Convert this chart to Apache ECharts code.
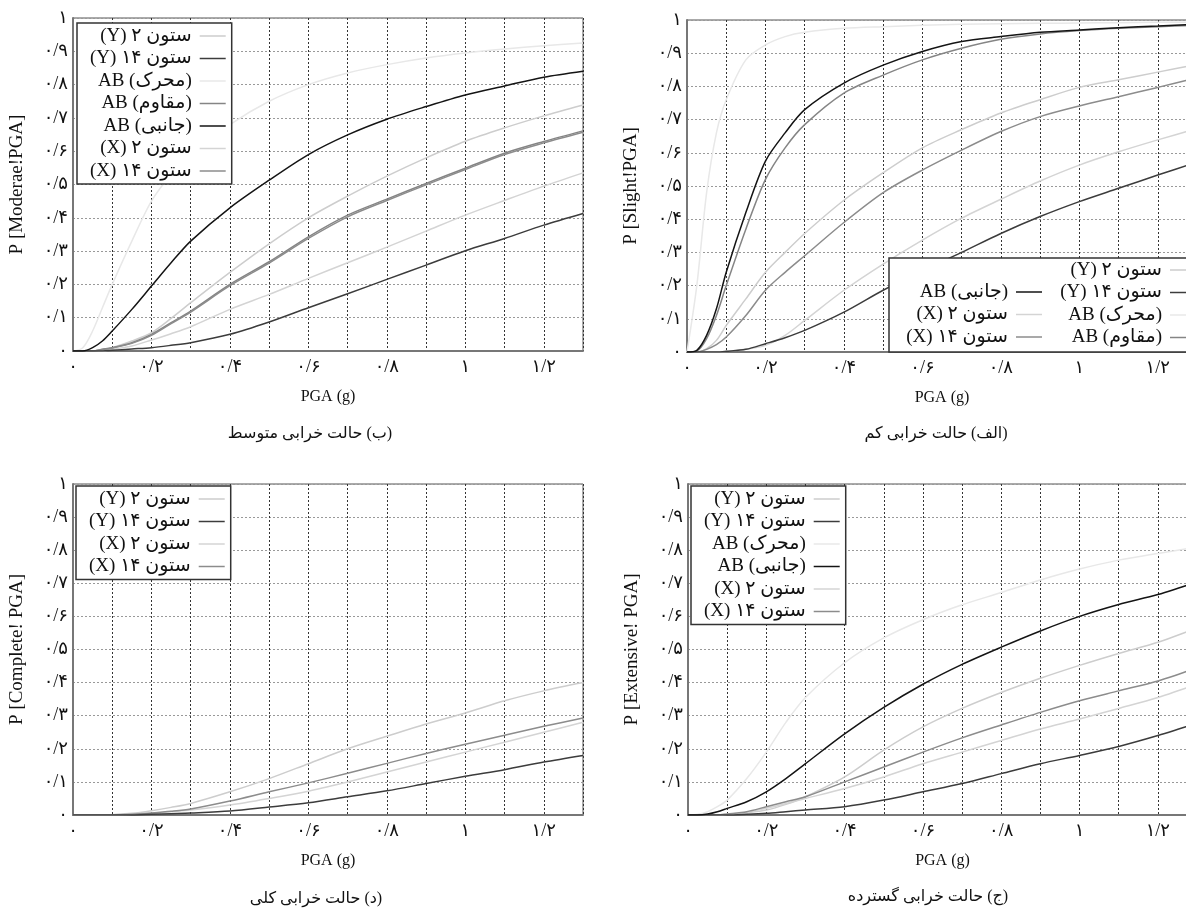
<!DOCTYPE html>
<html>
<head>
<meta charset="utf-8">
<script src="https://cdn.jsdelivr.net/npm/echarts@6/dist/echarts.min.js"></script>
<style>
  html, body { margin: 0; padding: 0; background: #fff; overflow: hidden; }
  #main { width: 1200px; height: 912px; direction: rtl; }
</style>
</head>
<body>
<div id="main"></div>
<script>
// PGA (g) sample points shared by every curve
const pga = [0, 0.025, 0.05, 0.075, 0.1, 0.15, 0.2, 0.25, 0.3, 0.4, 0.5, 0.6, 0.7, 0.8, 0.9, 1.0, 1.1, 1.2, 1.3];

const xTickLabels = ['۰', '۰/۲', '۰/۴', '۰/۶', '۰/۸', '۱', '۱/۲'];
const yTickLabels = ['۰', '۰/۱', '۰/۲', '۰/۳', '۰/۴', '۰/۵', '۰/۶', '۰/۷', '۰/۸', '۰/۹', '۱'];

const N_C2Y = 'ستون ۲ (Y)';
const N_C14Y = 'ستون ۱۴ (Y)';
const N_DRV = '(محرک) AB';
const N_RES = '(مقاوم) AB';
const N_LAT = '(جانبی) AB';
const N_C2X = 'ستون ۲ (X)';
const N_C14X = 'ستون ۱۴ (X)';

// (الف) slight
const sliC2Y  = [0, 0, 0.01, 0.035, 0.08, 0.16, 0.24, 0.3, 0.357, 0.457, 0.54, 0.615, 0.67, 0.72, 0.76, 0.797, 0.82, 0.843, 0.866];
const sliC14Y = [0, 0, 0, 0, 0.002, 0.008, 0.025, 0.043, 0.065, 0.12, 0.186, 0.245, 0.3, 0.357, 0.408, 0.453, 0.493, 0.533, 0.572];
const sliDrv  = [0, 0.2, 0.48, 0.66, 0.76, 0.88, 0.925, 0.95, 0.963, 0.975, 0.98, 0.984, 0.987, 0.989, 0.99, 0.991, 0.992, 0.993, 0.993];
const sliRes  = [0, 0.003, 0.04, 0.11, 0.2, 0.37, 0.52, 0.615, 0.685, 0.78, 0.834, 0.88, 0.915, 0.942, 0.958, 0.968, 0.975, 0.98, 0.984];
const sliLat  = [0, 0.005, 0.05, 0.13, 0.24, 0.42, 0.575, 0.66, 0.73, 0.81, 0.864, 0.905, 0.935, 0.95, 0.963, 0.97, 0.977, 0.982, 0.987];
const sliC2X  = [0, 0, 0, 0, 0.002, 0.008, 0.02, 0.05, 0.095, 0.186, 0.265, 0.337, 0.403, 0.46, 0.515, 0.563, 0.603, 0.639, 0.673];
const sliC14X = [0, 0, 0.008, 0.022, 0.045, 0.11, 0.186, 0.24, 0.29, 0.39, 0.48, 0.548, 0.608, 0.664, 0.709, 0.741, 0.769, 0.797, 0.826];

// (ب) moderate
const modC2Y  = [0, 0, 0, 0.005, 0.01, 0.03, 0.055, 0.098, 0.145, 0.236, 0.322, 0.4, 0.465, 0.525, 0.58, 0.63, 0.67, 0.706, 0.739];
const modC14Y = [0, 0, 0, 0, 0.002, 0.006, 0.01, 0.017, 0.025, 0.05, 0.087, 0.13, 0.172, 0.215, 0.258, 0.301, 0.338, 0.378, 0.413];
const modDrv  = [0, 0.01, 0.06, 0.13, 0.2, 0.33, 0.45, 0.53, 0.59, 0.68, 0.75, 0.8, 0.835, 0.86, 0.88, 0.895, 0.907, 0.917, 0.925];
const modRes  = [0, 0, 0, 0.005, 0.01, 0.025, 0.05, 0.085, 0.12, 0.2, 0.268, 0.343, 0.408, 0.456, 0.503, 0.549, 0.594, 0.629, 0.661];
const modLat  = [0, 0, 0.01, 0.03, 0.06, 0.125, 0.195, 0.265, 0.33, 0.43, 0.513, 0.59, 0.649, 0.696, 0.734, 0.769, 0.796, 0.822, 0.84];
const modC2X  = [0, 0, 0, 0, 0.005, 0.015, 0.033, 0.052, 0.073, 0.125, 0.17, 0.218, 0.265, 0.312, 0.36, 0.408, 0.452, 0.495, 0.535];
const modC14X = [0, 0, 0, 0.004, 0.009, 0.023, 0.047, 0.082, 0.117, 0.196, 0.264, 0.338, 0.403, 0.452, 0.499, 0.545, 0.59, 0.625, 0.657];

// (ج) extensive
const extC2Y  = [0, 0, 0, 0, 0.002, 0.007, 0.015, 0.032, 0.055, 0.115, 0.196, 0.266, 0.322, 0.37, 0.413, 0.452, 0.488, 0.522, 0.565];
const extC14Y = [0, 0, 0, 0, 0, 0.002, 0.005, 0.01, 0.015, 0.025, 0.045, 0.07, 0.095, 0.125, 0.155, 0.18, 0.207, 0.24, 0.277];
const extDrv  = [0, 0.002, 0.01, 0.025, 0.045, 0.11, 0.19, 0.28, 0.355, 0.46, 0.535, 0.59, 0.635, 0.672, 0.71, 0.743, 0.77, 0.79, 0.81];
const extLat  = [0, 0, 0.003, 0.01, 0.02, 0.04, 0.07, 0.11, 0.155, 0.245, 0.325, 0.395, 0.455, 0.507, 0.556, 0.6, 0.636, 0.666, 0.704];
const extC2X  = [0, 0, 0, 0, 0.002, 0.008, 0.02, 0.035, 0.05, 0.08, 0.115, 0.155, 0.19, 0.225, 0.26, 0.29, 0.322, 0.355, 0.395];
const extC14X = [0, 0, 0, 0, 0.003, 0.01, 0.025, 0.04, 0.055, 0.1, 0.145, 0.19, 0.233, 0.272, 0.31, 0.345, 0.375, 0.405, 0.445];

// (د) complete
const comC2Y  = [0, 0, 0, 0, 0.001, 0.005, 0.013, 0.023, 0.035, 0.07, 0.11, 0.155, 0.2, 0.238, 0.275, 0.308, 0.345, 0.375, 0.4];
const comC14Y = [0, 0, 0, 0, 0, 0, 0.002, 0.004, 0.006, 0.012, 0.024, 0.037, 0.055, 0.073, 0.095, 0.117, 0.137, 0.16, 0.18];
const comC2X  = [0, 0, 0, 0, 0, 0.002, 0.005, 0.01, 0.015, 0.03, 0.05, 0.072, 0.1, 0.13, 0.16, 0.19, 0.22, 0.25, 0.28];
const comC14X = [0, 0, 0, 0, 0, 0.002, 0.006, 0.011, 0.018, 0.042, 0.07, 0.097, 0.126, 0.156, 0.186, 0.214, 0.241, 0.268, 0.293];

const FONT = "'Liberation Serif', 'DejaVu Sans', serif";

const colorOf = {};
colorOf[N_C2Y] = '#cdcdcd';
colorOf[N_C14Y] = '#3c3c3c';
colorOf[N_DRV] = '#e8e8e8';
colorOf[N_RES] = '#858585';
colorOf[N_LAT] = '#141414';
colorOf[N_C2X] = '#d4d4d4';
colorOf[N_C14X] = '#8c8c8c';

const panels = [
  { // (ب)
    grid: { left: 73, top: 18, width: 510, height: 333 },
    yName: 'P [Moderae!PGA]',
    curves: [[N_DRV, modDrv], [N_C2Y, modC2Y], [N_C2X, modC2X], [N_RES, modRes], [N_C14X, modC14X], [N_C14Y, modC14Y], [N_LAT, modLat]]
  },
  { // (الف)
    grid: { left: 687, top: 20, width: 511, height: 332 },
    yName: 'P [Slight!PGA]',
    curves: [[N_DRV, sliDrv], [N_C2Y, sliC2Y], [N_C2X, sliC2X], [N_RES, sliRes], [N_C14X, sliC14X], [N_C14Y, sliC14Y], [N_LAT, sliLat]]
  },
  { // (د)
    grid: { left: 73, top: 484, width: 510, height: 331 },
    yName: 'P [Complete! PGA]',
    curves: [[N_C2Y, comC2Y], [N_C2X, comC2X], [N_C14X, comC14X], [N_C14Y, comC14Y]]
  },
  { // (ج)
    grid: { left: 688, top: 484, width: 510, height: 331 },
    yName: 'P [Extensive! PGA]',
    curves: [[N_DRV, extDrv], [N_C2Y, extC2Y], [N_C2X, extC2X], [N_C14X, extC14X], [N_C14Y, extC14Y], [N_LAT, extLat]]
  }
];

const chart = echarts.init(document.getElementById('main'), null, { renderer: 'canvas' });

const grids = [], xAxes = [], yAxes = [], series = [];
panels.forEach((p, i) => {
  grids.push(Object.assign({ show: true, borderColor: '#555', borderWidth: 1, containLabel: false }, p.grid));
  xAxes.push({
    gridIndex: i, type: 'value', min: 0, max: 1.3, interval: 0.1,
    name: 'PGA (g)', nameLocation: 'middle', nameGap: 38,
    nameTextStyle: { fontSize: 16, color: '#111', fontFamily: FONT },
    axisLine: { show: true, lineStyle: { color: '#777', width: 2 } },
    axisTick: { show: false },
    axisLabel: {
      fontSize: 18, color: '#111', fontFamily: FONT, margin: 7,
      formatter: v => { const k = Math.round(v * 10); return k % 2 === 0 ? (xTickLabels[k / 2] || '') : ''; }
    },
    splitLine: { show: true, lineStyle: { type: [2, 2], color: '#333', width: 1 } }
  });
  yAxes.push({
    gridIndex: i, type: 'value', min: 0, max: 1, interval: 0.1,
    name: p.yName, nameLocation: 'middle', nameGap: 46,
    nameTextStyle: { fontSize: 19, color: '#111', fontFamily: FONT },
    axisLine: { show: true, lineStyle: { color: '#777', width: 2 } },
    axisTick: { show: false },
    axisLabel: {
      fontSize: 18, color: '#111', fontFamily: FONT, margin: 5,
      formatter: v => yTickLabels[Math.round(v * 10)] || ''
    },
    splitLine: { show: true, lineStyle: { type: [2, 2], color: '#999', width: 1 } }
  });
  p.curves.forEach(([name, vals]) => {
    series.push({
      type: 'line', name: name, xAxisIndex: i, yAxisIndex: i,
      data: pga.map((x, k) => [x, vals[k]]),
      symbol: 'none', smooth: 0.3,
      color: colorOf[name],
      lineStyle: { width: 1.5, color: colorOf[name] },
      silent: true
    });
  });
});

const legendBase = {
  orient: 'vertical', align: 'right', icon: 'rect',
  itemWidth: 26, itemHeight: 1.5, itemGap: 2.5,
  selectedMode: false, z: 100,
  textStyle: { fontSize: 19, lineHeight: 20, color: '#111', fontFamily: FONT, padding: [0, 3, 0, 0] }
};
const boxed = { backgroundColor: '#fff', borderColor: '#333', borderWidth: 1.5, padding: [3, 6, 3, 13] };

const allNames = [N_C2Y, N_C14Y, N_DRV, N_RES, N_LAT, N_C2X, N_C14X];
const captionFont = '16px ' + FONT;

chart.setOption({
  animation: false,
  grid: grids,
  xAxis: xAxes,
  yAxis: yAxes,
  series: series,
  legend: [
    Object.assign({}, legendBase, boxed, { data: allNames, left: 77, top: 23 }),
    Object.assign({}, legendBase, { data: [N_C2Y, N_C14Y, N_DRV, N_RES], right: 4, top: 260, padding: 0 }),
    Object.assign({}, legendBase, { data: [N_LAT, N_C2X, N_C14X], right: 158, top: 282, padding: 0 }),
    Object.assign({}, legendBase, boxed, { data: [N_C2Y, N_C14Y, N_C2X, N_C14X], left: 76, top: 486 }),
    Object.assign({}, legendBase, boxed, { data: [N_C2Y, N_C14Y, N_DRV, N_LAT, N_C2X, N_C14X], left: 691, top: 486 })
  ],
  graphic: [
    { type: 'rect', z: 50, shape: { x: 889, y: 258, width: 330, height: 94 },
      style: { fill: '#fff', stroke: '#333', lineWidth: 1.5 } },
    { type: 'text', x: 310, y: 434, style: { text: '(ب) حالت خرابی متوسط', align: 'center', verticalAlign: 'middle', font: captionFont, fill: '#111' } },
    { type: 'text', x: 936, y: 434, style: { text: '(الف) حالت خرابی کم', align: 'center', verticalAlign: 'middle', font: captionFont, fill: '#111' } },
    { type: 'text', x: 316, y: 899, style: { text: '(د) حالت خرابی کلی', align: 'center', verticalAlign: 'middle', font: captionFont, fill: '#111' } },
    { type: 'text', x: 928, y: 897, style: { text: '(ج) حالت خرابی گسترده', align: 'center', verticalAlign: 'middle', font: captionFont, fill: '#111' } }
  ]
});
</script>
</body>
</html>
